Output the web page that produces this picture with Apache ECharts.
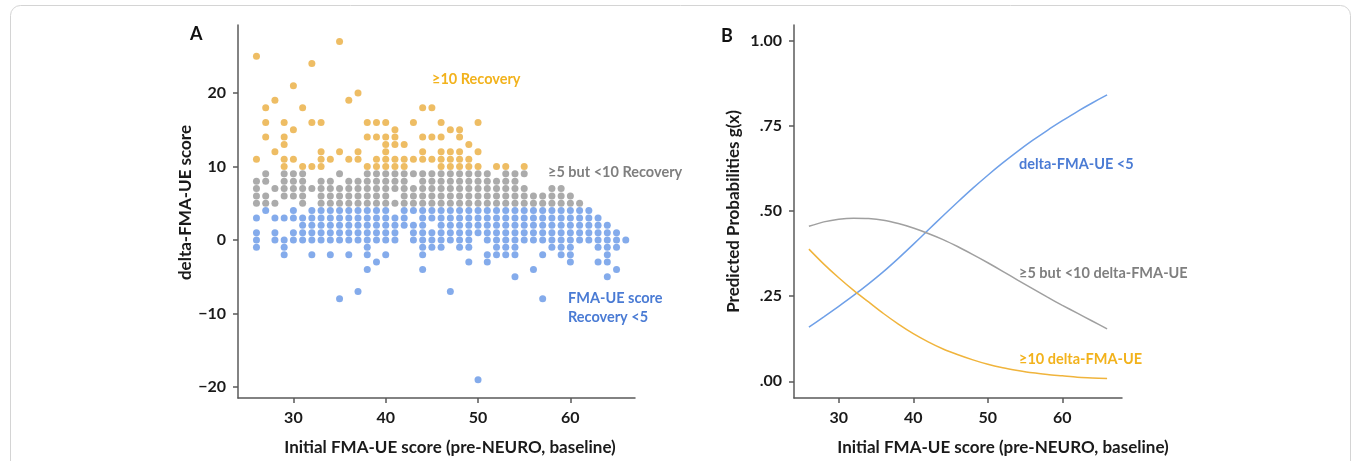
<!DOCTYPE html>
<html>
<head>
<meta charset="utf-8">
<script src="https://cdn.jsdelivr.net/npm/echarts@6/dist/echarts.min.js"></script>
<style>
  html, body { margin: 0; padding: 0; background: #fff; }
  #chart { width: 1357px; height: 461px; }
</style>
</head>
<body>
<div id="chart"></div>
<script>
// panel A: each row is [delta-FMA-UE, list of initial FMA-UE scores]
const recovery10Rows = [
  [27, [35]],
  [25, [26]],
  [24, [32]],
  [21, [30]],
  [20, [37]],
  [19, [28, 36]],
  [18, [27, 31, 44, 45]],
  [16, [27, 29, 32, 33, 38, 39, 40, 43, 46, 50]],
  [15, [30, 41, 47, 48]],
  [14, [27, 29, 38, 39, 40, 41, 44, 45, 46, 48]],
  [13, [29, 40, 41, 42, 49]],
  [12, [28, 33, 35, 37, 40, 44, 46, 47, 48, 50]],
  [11, [26, 29, 30, 33, 34, 36, 37, 39, 40, 41, 42, 43, 44, 45, 46, 47, 48, 49]],
  [10, [29, 31, 32, 33, 38, 39, 40, 41, 42, 46, 47, 48, 49, 50, 52, 53, 55]],
]
const recovery5Rows = [
  [9, [27, 29, 30, 31, 35, 38, 39, 40, 41, 42, 43, 44, 45, 46, 47, 48, 49, 50, 51, 53, 54, 55]],
  [8, [26, 27, 29, 30, 31, 33, 34, 36, 37, 38, 39, 40, 41, 42, 44, 45, 46, 47, 48, 49, 50, 51, 52, 53, 54]],
  [7, [26, 28, 29, 30, 31, 32, 33, 34, 35, 36, 37, 38, 39, 40, 41, 42, 43, 44, 45, 46, 47, 48, 49, 50, 51, 52, 53, 54, 55, 58, 59]],
  [6, [26, 27, 29, 30, 31, 33, 34, 35, 36, 37, 38, 39, 40, 42, 43, 44, 45, 46, 47, 48, 49, 50, 51, 52, 53, 54, 55, 56, 57, 58, 59, 60]],
  [5, [26, 27, 28, 31, 33, 34, 35, 36, 37, 38, 39, 40, 41, 42, 43, 44, 45, 46, 47, 48, 49, 50, 51, 52, 53, 54, 55, 56, 57, 58, 59, 60, 61]],
]
const recoveryLowRows = [
  [4, [27, 30, 32, 33, 34, 35, 36, 37, 38, 39, 40, 42, 43, 44, 45, 46, 47, 48, 49, 50, 51, 52, 53, 54, 55, 56, 57, 58, 59, 60, 61, 62]],
  [3, [26, 28, 29, 30, 31, 32, 33, 34, 35, 36, 37, 38, 39, 40, 41, 42, 44, 45, 46, 47, 48, 49, 50, 51, 52, 53, 54, 55, 56, 57, 58, 59, 60, 61, 62, 63]],
  [2, [31, 32, 33, 34, 35, 36, 37, 38, 39, 40, 41, 42, 43, 44, 46, 47, 48, 49, 50, 51, 52, 53, 54, 55, 56, 57, 58, 59, 60, 61, 62, 63, 64]],
  [1, [26, 28, 30, 31, 32, 33, 34, 35, 36, 37, 38, 39, 40, 41, 43, 44, 45, 46, 47, 48, 49, 50, 51, 52, 53, 54, 55, 56, 57, 58, 59, 60, 61, 62, 63, 64, 65]],
  [0, [26, 28, 29, 30, 31, 32, 33, 34, 35, 36, 37, 38, 39, 40, 41, 43, 44, 45, 46, 47, 48, 49, 51, 52, 53, 54, 55, 56, 57, 58, 59, 60, 61, 62, 63, 64, 65, 66]],
  [-1, [26, 29, 38, 44, 45, 46, 48, 49, 52, 53, 54, 58, 59, 60, 63, 64, 65]],
  [-2, [29, 32, 34, 36, 38, 40, 44, 51, 52, 53, 54, 57, 59, 60, 64]],
  [-3, [39, 49, 51, 60, 63, 64]],
  [-4, [38, 44, 56, 65]],
  [-5, [54, 64]],
  [-7, [37, 47]],
  [-8, [35, 57]],
  [-19, [50]],
]
const scoreTicks = [30, 40, 50, 60]
const deltaTicks = [-20, -10, 0, 10, 20]

// panel B: predicted probabilities
const probX = [26, 28, 30, 32, 34, 36, 38, 40, 42, 44, 46, 48, 50, 52, 54, 56, 58, 60, 62, 64, 66]
const probBelow5 = [0.159, 0.189, 0.220, 0.252, 0.286, 0.322, 0.361, 0.402, 0.444, 0.486, 0.527,
  0.567, 0.605, 0.641, 0.675, 0.707, 0.737, 0.765, 0.792, 0.817, 0.841]
const probMid = [0.455, 0.468, 0.476, 0.479, 0.478, 0.473, 0.463, 0.450, 0.434, 0.416, 0.395,
  0.372, 0.348, 0.323, 0.297, 0.272, 0.247, 0.223, 0.200, 0.177, 0.154]
const probAbove10 = [0.388, 0.344, 0.304, 0.267, 0.233, 0.199, 0.168, 0.140, 0.116, 0.095, 0.078,
  0.063, 0.050, 0.040, 0.032, 0.025, 0.020, 0.016, 0.012, 0.010, 0.008]
const probTicks = [0, 0.25, 0.5, 0.75, 1]

const ORANGE = '#EDB95C'
const GRAY = '#A6A6A6'
const BLUE = '#7DA7EA'
const FONT = 'Lato'
const AXIS_COLOR = '#5a5a5a'

function rowsToPoints(rows) {
  const pts = []
  rows.forEach(([y, xs]) => xs.forEach(x => pts.push([x, y])))
  return pts
}
function pairUp(xs, ys) {
  return xs.map((x, i) => [x, ys[i]])
}

const labelStyle = { color: '#1a1a1a', fontFamily: FONT, fontWeight: 'bold', fontSize: 16 }

function nameStyle(size, padding) {
  return { color: '#1a1a1a', fontFamily: FONT, fontWeight: 'bold', fontSize: size, padding }
}

function makeAxis(ticks, extra) {
  return Object.assign({
    type: 'value',
    nameLocation: 'middle',
    axisLine: { show: true, onZero: false, lineStyle: { color: AXIS_COLOR, width: 1.5 } },
    axisTick: { show: true, length: 5, customValues: ticks, lineStyle: { color: AXIS_COLOR, width: 1.5 } },
    splitLine: { show: false },
  }, extra)
}

function note(text, left, top, color, size) {
  return {
    type: 'text', left, top,
    style: { text, fill: color, font: `bold ${size || 14.5}px ${FONT}` },
  }
}

const chart = echarts.init(document.getElementById('chart'), null, { renderer: 'canvas' })

chart.setOption({
  backgroundColor: '#fff',
  animation: false,
  grid: [
    { left: 238, top: 25, width: 397, height: 374 },
    { left: 794, top: 25, width: 328, height: 373 },
  ],
  xAxis: [
    makeAxis(scoreTicks, {
      gridIndex: 0, min: 24, max: 67,
      name: 'Initial FMA-UE score (pre-NEURO, baseline)', nameGap: 41,
      nameTextStyle: nameStyle(17, [0, 0, 0, 27]),
      axisLabel: Object.assign({ margin: 12, customValues: scoreTicks }, labelStyle),
    }),
    makeAxis(scoreTicks, {
      gridIndex: 1, min: 24, max: 68,
      name: 'Initial FMA-UE score (pre-NEURO, baseline)', nameGap: 41,
      nameTextStyle: nameStyle(17, [0, 0, 0, 90]),
      axisLabel: Object.assign({ margin: 12, customValues: scoreTicks }, labelStyle),
    }),
  ],
  yAxis: [
    makeAxis(deltaTicks, {
      gridIndex: 0, min: -21.5, max: 29.25,
      name: 'delta-FMA-UE score', nameGap: 42,
      nameTextStyle: nameStyle(17, [0, 0, 0, 18]),
      axisLabel: Object.assign({
        margin: 12, customValues: deltaTicks,
        formatter: v => String(v).replace('-', '\u2212'),
      }, labelStyle),
    }),
    makeAxis(probTicks, {
      gridIndex: 1, min: -0.049, max: 1.046,
      name: 'Predicted Probabilities g(x)', nameGap: 52,
      nameTextStyle: nameStyle(17, [0, 0, 0, 0]),
      axisLabel: Object.assign({
        margin: 12, customValues: probTicks,
        formatter: v => v.toFixed(2).replace(/^0/, ''),
      }, labelStyle),
    }),
  ],
  series: [
    {
      name: '≥10 Recovery', type: 'scatter', xAxisIndex: 0, yAxisIndex: 0,
      symbolSize: 7, itemStyle: { color: ORANGE, opacity: 0.95 },
      data: rowsToPoints(recovery10Rows),
    },
    {
      name: '≥5 but <10 Recovery', type: 'scatter', xAxisIndex: 0, yAxisIndex: 0,
      symbolSize: 7, itemStyle: { color: GRAY, opacity: 0.95 },
      data: rowsToPoints(recovery5Rows),
    },
    {
      name: 'FMA-UE score Recovery <5', type: 'scatter', xAxisIndex: 0, yAxisIndex: 0,
      symbolSize: 7, itemStyle: { color: BLUE, opacity: 0.95 },
      data: rowsToPoints(recoveryLowRows),
    },
    {
      name: 'delta-FMA-UE <5', type: 'line', xAxisIndex: 1, yAxisIndex: 1,
      smooth: 0.3, showSymbol: false, lineStyle: { color: '#6FA0E8', width: 1.5 },
      data: pairUp(probX, probBelow5),
    },
    {
      name: '≥5 but <10 delta-FMA-UE', type: 'line', xAxisIndex: 1, yAxisIndex: 1,
      smooth: 0.3, showSymbol: false, lineStyle: { color: '#A0A0A0', width: 1.5 },
      data: pairUp(probX, probMid),
    },
    {
      name: '≥10 delta-FMA-UE', type: 'line', xAxisIndex: 1, yAxisIndex: 1,
      smooth: 0.3, showSymbol: false, lineStyle: { color: '#F0B43C', width: 1.5 },
      data: pairUp(probX, probAbove10),
    },
  ],
  graphic: [
    {
      type: 'rect', left: 8, top: 3,
      shape: { width: 1340, height: 480, r: 10 },
      style: { fill: 'none', stroke: '#d4d4d4', lineWidth: 1 },
    },
    note('A', 190, 25, '#111', 18),
    note('B', 721, 27, '#111', 18),
    note('≥10 Recovery', 432, 72, '#F2B21C'),
    note('≥5 but <10 Recovery', 548, 165, '#7F7F7F'),
    note('FMA-UE score', 568, 291, '#4A7BD4'),
    note('Recovery <5', 568, 310, '#4A7BD4'),
    note('delta-FMA-UE <5', 1019, 157, '#4A7BD4'),
    note('≥5 but <10 delta-FMA-UE', 1019, 266, '#7F7F7F'),
    note('≥10 delta-FMA-UE', 1019, 352, '#F2B21C'),
  ],
})
</script>
</body>
</html>
